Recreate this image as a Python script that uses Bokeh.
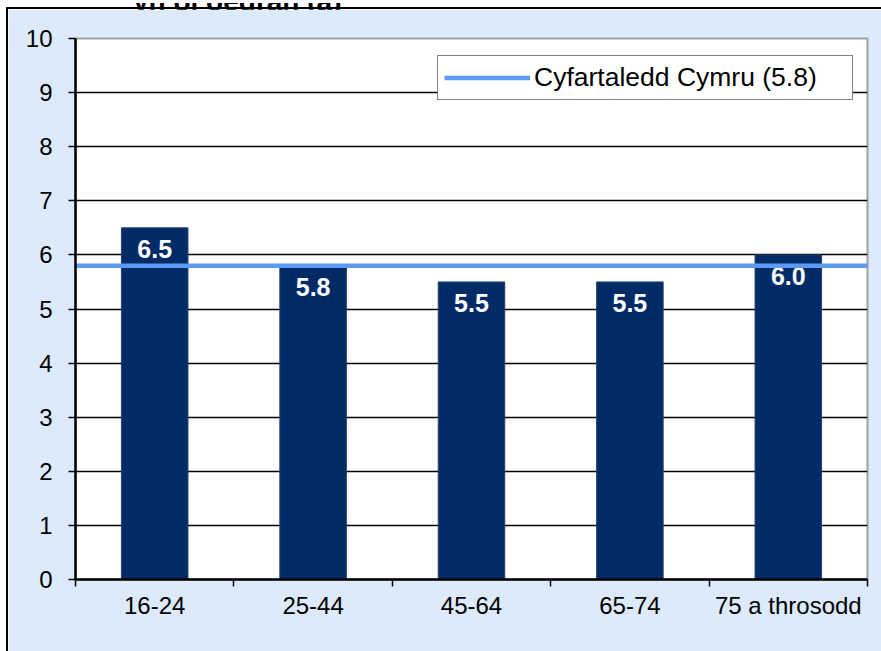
from bokeh.plotting import figure
from bokeh.layouts import column
from bokeh.models import (Range1d, FixedTicker, Legend, LegendItem, ColumnDataSource, Div)
from bokeh.core.properties import value
from bokeh.embed import file_html
from bokeh.resources import INLINE

# ---- data ----
title_text = "yn ôl oedran (a)"
categories = ["16-24", "25-44", "45-64", "65-74", "75 a throsodd"]
values = [6.5, 5.8, 5.5, 5.5, 6.0]
value_labels = ["6.5", "5.8", "5.5", "5.5", "6.0"]
wales_avg = 5.8
legend_label = "Cyfartaledd Cymru (5.8)"
y_ticks = [0, 1, 2, 3, 4, 5, 6, 7, 8, 9, 10]

FONT = "Liberation Sans"
BG = "#DDEAFB"
BAR = "#002B66"
AVG = "#5B9BF5"

n = len(categories)
centers = [i + 0.5 for i in range(n)]
boundaries = list(range(n + 1))

# clipped title fragment above the chart box
title_div = Div(
    text=('<div style="position:relative;width:881px;height:9px;overflow:hidden;">'
          '<span style="position:absolute;left:133px;top:-21px;white-space:nowrap;'
          'font-family:\'Liberation Sans\';font-weight:bold;font-size:28px;color:black;">'
          + title_text + '</span></div>'),
    width=881, height=9, margin=0)

p = figure(width=873, height=642, output_backend="svg", toolbar_location=None,
           x_range=Range1d(0, n), y_range=Range1d(0, 10),
           min_border_left=67, min_border_right=14, min_border_top=29, min_border_bottom=72,
           margin=0)
p.styles = {"margin-left": "8px", "outline": "2px solid black"}
p.border_fill_color = BG
p.background_fill_color = "white"
p.outline_line_color = "#A0A0A0"
p.outline_line_width = 2

# grid (top edge is the grey frame, not a gridline)
p.xgrid.grid_line_color = None
p.ygrid.ticker = FixedTicker(ticks=y_ticks[:-1])
p.ygrid.grid_line_color = "black"
p.ygrid.grid_line_width = 1.5

# bars
src = ColumnDataSource(dict(x=centers, top=values, lab=value_labels, cat=categories))
p.vbar(x="x", top="top", width=0.42, bottom=0, source=src,
       fill_color=BAR, line_color="#24406E", line_width=1)

# bar value labels
p.text(x="x", y="top", text="lab", source=src, text_align="center",
       text_baseline="middle", y_offset=21, text_color="white",
       text_font=value(FONT), text_font_style="bold", text_font_size="25px")

# average line
avg_r = p.line(x=[boundaries[0], boundaries[-1]], y=[wales_avg, wales_avg],
               line_color=AVG, line_width=4.5)

# x axis
xa = p.xaxis[0]
xa.ticker = FixedTicker(ticks=centers, minor_ticks=boundaries)
xa.major_label_overrides = {c: lab for c, lab in zip(centers, categories)}
xa.major_tick_line_color = None
xa.major_tick_out = 7
xa.major_tick_in = 0
xa.minor_tick_line_color = "black"
xa.minor_tick_line_width = 1.5
xa.minor_tick_out = 7
xa.minor_tick_in = 0
xa.axis_line_color = "black"
xa.axis_line_width = 2.5
xa.major_label_text_font = FONT
xa.major_label_text_font_size = "24px"
xa.major_label_text_color = "black"
xa.major_label_standoff = 5

# y axis
ya = p.yaxis[0]
ya.ticker = FixedTicker(ticks=y_ticks)
ya.major_tick_out = 7
ya.major_tick_in = 0
ya.major_tick_line_color = "black"
ya.major_tick_line_width = 1.5
ya.minor_tick_line_color = None
ya.axis_line_color = "black"
ya.axis_line_width = 2.5
ya.major_label_text_font = FONT
ya.major_label_text_font_size = "24px"
ya.major_label_text_color = "black"
ya.major_label_standoff = 16

# legend
legend = Legend(items=[LegendItem(label=legend_label, renderers=[avg_r])],
                location=(362, 479), padding=6, margin=0, spacing=0,
                glyph_width=86, glyph_height=25, label_standoff=4,
                label_width=312,
                label_text_font=FONT, label_text_font_size="26.5px",
                label_text_color="black", label_height=25,
                border_line_color="black", border_line_width=1.5,
                background_fill_color="white", background_fill_alpha=1.0)
p.add_layout(legend, "center")

layout = column(title_div, p, spacing=0, margin=0)
open("out.html", "w").write(file_html(layout, INLINE))
